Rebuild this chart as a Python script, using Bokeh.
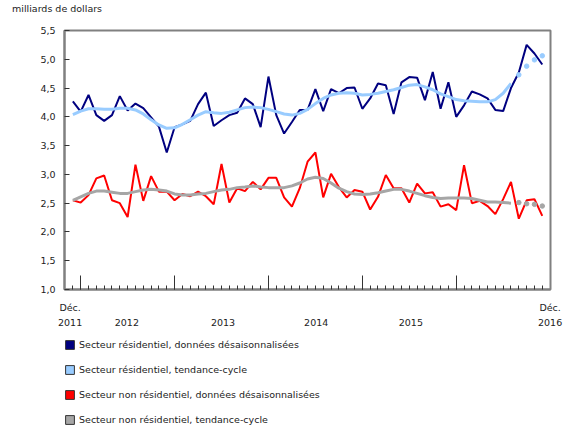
from bokeh.plotting import figure
from bokeh.layouts import column
from bokeh.models import (FixedTicker, LinearAxis, CustomJSTickFormatter, Legend,
                          LegendItem, Range1d, Div)
from bokeh.embed import file_html
from bokeh.resources import INLINE

# Monthly periods, Dec 2011 .. Dec 2016
months = ["2011-12"] + [f"{y}-{m:02d}" for y in range(2012, 2017) for m in range(1, 13)]

res_sa = [4.27, 4.09, 4.38, 4.03, 3.93, 4.03, 4.36, 4.11, 4.23, 4.15, 3.99, 3.83, 3.38,
          3.82, 3.87, 3.93, 4.22, 4.42, 3.84, 3.94, 4.03, 4.07, 4.32, 4.22, 3.82,
          4.70, 4.03, 3.71, 3.91, 4.12, 4.12, 4.48, 4.10, 4.48, 4.41, 4.50, 4.51,
          4.14, 4.32, 4.58, 4.55, 4.05, 4.60, 4.69, 4.68, 4.29, 4.78, 4.14, 4.60,
          4.00, 4.20, 4.44, 4.39, 4.32, 4.12, 4.10, 4.50, 4.77, 5.25, 5.10, 4.91]
res_tc = [4.04, 4.10, 4.14, 4.14, 4.13, 4.13, 4.15, 4.15, 4.12, 4.05, 3.95, 3.86, 3.80,
          3.81, 3.87, 3.95, 4.03, 4.09, 4.07, 4.06, 4.08, 4.12, 4.16, 4.17, 4.16,
          4.13, 4.09, 4.05, 4.03, 4.06, 4.13, 4.23, 4.32, 4.38, 4.41, 4.42, 4.41,
          4.38, 4.39, 4.41, 4.44, 4.47, 4.51, 4.55, 4.56, 4.52, 4.47, 4.40, 4.35,
          4.30, 4.28, 4.27, 4.26, 4.26, 4.30, 4.41, 4.58, 4.73, 4.88, 4.99, 5.06]
nonres_sa = [2.55, 2.51, 2.64, 2.93, 2.98, 2.55, 2.50, 2.26, 3.17, 2.54, 2.97, 2.70, 2.70,
             2.55, 2.66, 2.62, 2.70, 2.62, 2.48, 3.18, 2.51, 2.76, 2.71, 2.87, 2.74,
             2.94, 2.94, 2.60, 2.44, 2.76, 3.22, 3.38, 2.60, 3.01, 2.78, 2.60, 2.73,
             2.70, 2.39, 2.61, 2.99, 2.76, 2.76, 2.51, 2.84, 2.67, 2.69, 2.44, 2.48,
             2.38, 3.16, 2.50, 2.54, 2.45, 2.31, 2.57, 2.87, 2.23, 2.55, 2.57, 2.28]
nonres_tc = [2.55, 2.61, 2.67, 2.71, 2.71, 2.69, 2.67, 2.67, 2.70, 2.73, 2.74, 2.73, 2.71,
             2.66, 2.64, 2.64, 2.66, 2.67, 2.70, 2.73, 2.74, 2.77, 2.78, 2.80, 2.78,
             2.77, 2.77, 2.77, 2.80, 2.85, 2.92, 2.95, 2.93, 2.85, 2.76, 2.70, 2.66,
             2.65, 2.66, 2.68, 2.71, 2.74, 2.74, 2.71, 2.67, 2.63, 2.60, 2.58, 2.59,
             2.59, 2.59, 2.58, 2.55, 2.52, 2.52, 2.51, 2.50, 2.51, 2.49, 2.48, 2.45]
n_final = 57  # trend-cycle values after this index are shown as dots

y_ticks = [1.0, 1.5, 2.0, 2.5, 3.0, 3.5, 4.0, 4.5, 5.0, 5.5]
dec_labels = ["Déc.", "Déc."]
dec_pos = [-0.35, 61.0]
year_labels = ["2011", "2012", "2013", "2014", "2015", "2016"]
year_pos = [-0.35, 6.9, 19.2, 31.1, 43.2, 61.0]
series_names = ["Secteur résidentiel, données désaisonnalisées",
                "Secteur résidentiel, tendance-cycle",
                "Secteur non résidentiel, données désaisonnalisées",
                "Secteur non résidentiel, tendance-cycle"]
colors = ["#000080", "#99CCFF", "#FF0000", "#A6A6A6"]
unit_title = "milliards de dollars"

FONT = "DejaVu Sans"
FS = "9.5px"
TXT = "#222222"
NAN = float("nan")

x = list(range(len(months)))
jan_ticks = [i for i, m in enumerate(months) if m.endswith("-01")]

title_div = Div(text=unit_title, width=572, height=16, margin=0,
                styles={"font-family": FONT, "font-size": FS, "color": TXT,
                        "padding-left": "12px", "padding-top": "3px",
                        "line-height": "11px"})

p = figure(width=572, height=314, output_backend="svg", toolbar_location=None,
           x_range=Range1d(-1.07, 61.05), y_range=Range1d(1.0, 5.5),
           min_border_left=64, min_border_right=22, min_border_top=14,
           min_border_bottom=41)
p.grid.visible = False
p.outline_line_color = "#808080"
p.outline_line_width = 2

p.line(x, res_sa, line_color=colors[0], line_width=2)
p.line(x[:n_final], res_tc[:n_final], line_color=colors[1], line_width=3)
p.scatter(x[n_final:], res_tc[n_final:], size=4.5, color=colors[1])
p.line(x, nonres_sa, line_color=colors[2], line_width=2)
p.line(x[:n_final], nonres_tc[:n_final], line_color=colors[3], line_width=3)
p.scatter(x[n_final:], nonres_tc[n_final:], size=4.5, color=colors[3])

# y axis
ya = p.yaxis[0]
ya.ticker = FixedTicker(ticks=y_ticks)
ya.formatter = CustomJSTickFormatter(code="return tick.toFixed(1).replace('.', ',')")
ya.axis_line_color = "#808080"
ya.axis_line_width = 2
ya.major_tick_in = 5
ya.major_tick_out = 0
ya.major_tick_line_color = "#333333"
ya.minor_tick_line_color = None
ya.major_label_text_font = FONT
ya.major_label_text_font_size = FS
ya.major_label_text_color = TXT
ya.major_label_standoff = 9

# x axis: ticks only (labels not drawn)
xa = p.xaxis[0]
xa.ticker = FixedTicker(ticks=jan_ticks, minor_ticks=x)
xa.axis_line_color = "#808080"
xa.axis_line_width = 2
xa.major_tick_in = 14
xa.major_tick_out = 0
xa.minor_tick_in = 4
xa.minor_tick_out = 0
xa.major_tick_line_color = "#333333"
xa.minor_tick_line_color = "#333333"
xa.major_label_text_font_size = "1px"
xa.major_label_text_color = None
xa.major_label_standoff = 0

def label_axis(pos, labels, standoff):
    ax = LinearAxis(ticker=FixedTicker(ticks=pos),
                    formatter=CustomJSTickFormatter(args=dict(labels=labels),
                                                    code="return labels[index]"))
    ax.axis_line_color = None
    ax.major_tick_line_color = None
    ax.minor_tick_line_color = None
    ax.major_tick_out = 0
    ax.major_tick_in = 0
    ax.major_label_text_font = FONT
    ax.major_label_text_font_size = FS
    ax.major_label_text_color = TXT
    ax.major_label_standoff = standoff
    return ax

p.add_layout(label_axis(dec_pos, dec_labels, 12), "below")
p.add_layout(label_axis(year_pos, year_labels, 3), "below")

# legend in its own small figure below the chart
leg = figure(width=572, height=104, output_backend="svg", toolbar_location=None,
             x_range=Range1d(0, 1), y_range=Range1d(0, 1), min_border=0,
             x_axis_location=None, y_axis_location=None)
leg.grid.visible = False
leg.outline_line_color = None
items = []
for name, c in zip(series_names, colors):
    r = leg.quad(left=[NAN], right=[NAN], top=[NAN], bottom=[NAN],
                 fill_color=c, line_color="#333333")
    items.append(LegendItem(label=name, renderers=[r]))
legend = Legend(items=items, location=(0, 9), orientation="vertical",
                glyph_width=11, glyph_height=11, label_height=12, label_standoff=4,
                spacing=13, padding=0, margin=0, border_line_color=None,
                background_fill_alpha=0, label_text_font=FONT,
                label_text_font_size=FS, label_text_color=TXT)
leg.add_layout(legend, "center")

layout = column(title_div, p, leg, spacing=0)
open("out.html", "w").write(file_html(layout, INLINE))
